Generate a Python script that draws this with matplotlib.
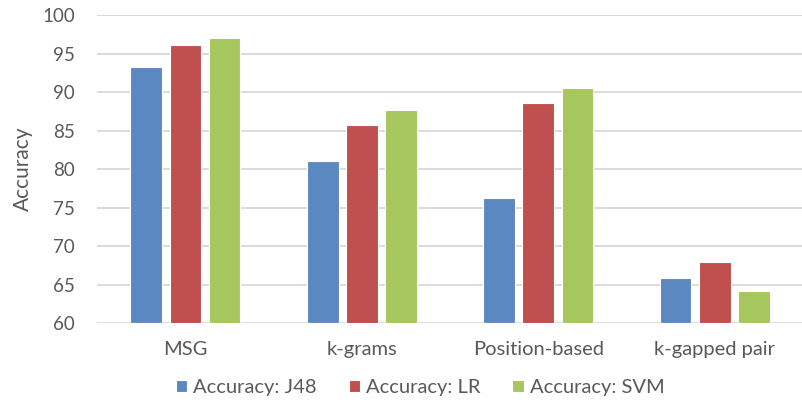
import matplotlib.pyplot as plt
import numpy as np

categories = ["MSG", "k-grams", "Position-based", "k-gapped pair"]
series_names = ["Accuracy: J48", "Accuracy: LR", "Accuracy: SVM"]
j48 = [93.3, 81.0, 76.3, 65.9]
lr = [96.2, 85.8, 88.6, 67.9]
svm = [97.0, 87.7, 90.5, 64.1]
colors = ["#5B88C1", "#C0504D", "#A6C65E"]

plt.rcParams['font.family'] = ['Lato', 'DejaVu Sans']
text_color = "#595959"

fig = plt.figure(figsize=(8.03, 4.05), dpi=100)
ax = fig.add_axes([0.121, 0.2025, 0.879, 0.7595])

x = np.arange(len(categories))
step = 0.222
width = 0.18
for i, (vals, name) in enumerate(zip([j48, lr, svm], series_names)):
    ax.bar(x + (i - 1) * step, [v - 60 for v in vals], width=width, bottom=60,
           color=colors[i], edgecolor="white", linewidth=0.8, label=name, zorder=3)

ax.set_ylim(60, 100)
ax.set_xlim(-0.5, len(categories) - 0.5)
ax.set_yticks(np.arange(60, 101, 5))
ax.yaxis.grid(True, color="#D9D9D9", linewidth=1.3, zorder=0)
ax.set_axisbelow(True)
for s in ax.spines.values():
    s.set_visible(False)
ax.tick_params(axis="both", length=0, colors=text_color)
ax.tick_params(axis="y", labelsize=13.5, pad=16)
ax.set_xticks(x)
ax.set_xticklabels(categories, fontsize=14.5)
ax.tick_params(axis="x", pad=13)
ax.set_ylabel("Accuracy", fontsize=15, color=text_color, labelpad=7)

fig.legend(loc="center", bbox_to_anchor=(0.523, 0.043), ncol=3, frameon=False,
           fontsize=14.5, labelcolor=text_color, handlelength=0.55, handleheight=0.55,
           handletextpad=0.3, columnspacing=1.6)

fig.savefig("out.png", dpi=100)
